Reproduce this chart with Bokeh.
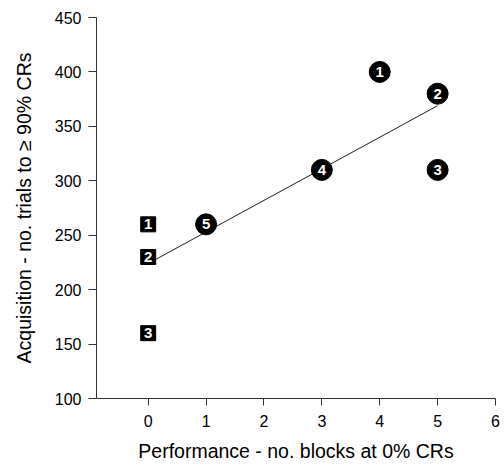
from bokeh.plotting import figure
from bokeh.models import Range1d, FixedTicker, ColumnDataSource
from bokeh.core.properties import value
from bokeh.embed import file_html
from bokeh.resources import INLINE

# Data
square_x = [0, 0, 0]
square_y = [260, 230, 160]
square_labels = ["1", "2", "3"]

circle_x = [4, 5, 5, 3, 1]
circle_y = [400, 380, 310, 310, 260]
circle_labels = ["1", "2", "3", "4", "5"]

fit_x = [0, 5]
fit_y = [224, 369]

x_ticks = [0, 1, 2, 3, 4, 5, 6]
y_ticks = [100, 150, 200, 250, 300, 350, 400, 450]

FONT = "Liberation Sans"

p = figure(frame_width=399, frame_height=381, output_backend="svg", toolbar_location=None,
           x_range=Range1d(-0.893, 6), y_range=Range1d(100, 450),
           min_border_left=96, min_border_right=9, min_border_top=17, min_border_bottom=67)
p.outline_line_color = None
p.xgrid.visible = False
p.ygrid.visible = False
p.background_fill_color = "white"
p.border_fill_color = "white"

for ax in (p.xaxis[0], p.yaxis[0]):
    ax.axis_line_color = "#333333"
    ax.major_tick_line_color = "#333333"
    ax.minor_tick_line_color = None
    ax.major_tick_in = 0
    ax.major_label_text_font = FONT
    ax.major_label_text_font_size = "16px"
    ax.major_label_text_color = "black"
    ax.axis_label_text_font = FONT
    ax.axis_label_text_font_size = "19.5px"
    ax.axis_label_text_font_style = "normal"
    ax.axis_label_text_color = "black"

p.xaxis.ticker = FixedTicker(ticks=x_ticks)
p.yaxis.ticker = FixedTicker(ticks=y_ticks)
p.xaxis.major_tick_out = 7
p.yaxis.major_tick_out = 8
p.xaxis.major_label_standoff = 9
p.yaxis.major_label_standoff = 7
p.xaxis.axis_label_standoff = 10
p.yaxis.axis_label_standoff = 17
p.xaxis.axis_label = "Performance - no. blocks at 0% CRs"
p.yaxis.axis_label = "Acquisition - no. trials to \u2265 90% CRs"

p.line(fit_x, fit_y, line_color="#222222", line_width=1)

sq = ColumnDataSource(dict(x=square_x, y=square_y, t=square_labels))
ci = ColumnDataSource(dict(x=circle_x, y=circle_y, t=circle_labels))

p.scatter("x", "y", source=sq, marker="square", size=15, fill_color="black", line_color="black")
p.scatter("x", "y", source=ci, marker="circle", size=21, fill_color="black", line_color="black")

for src in (sq, ci):
    p.text("x", "y", text="t", source=src, text_color="white", text_font=value(FONT),
           text_font_size="15px", text_font_style="bold", text_align="center",
           text_baseline="middle")

open("out.html", "w").write(file_html(p, INLINE))
